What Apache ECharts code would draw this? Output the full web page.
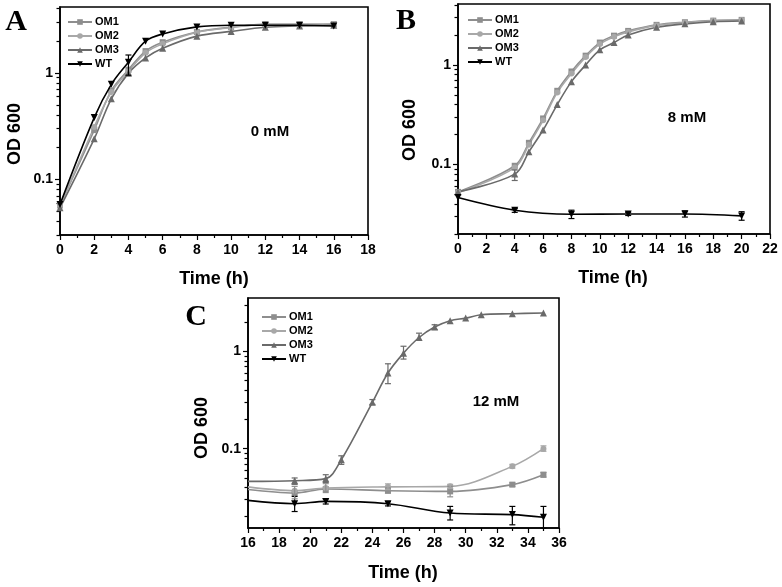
<!DOCTYPE html>
<html>
<head>
<meta charset="utf-8">
<script src="https://cdn.jsdelivr.net/npm/echarts@6/dist/echarts.min.js"></script>
<style>html,body{margin:0;padding:0;background:#fff;}#c{width:782px;height:587px;}</style>
</head>
<body>
<div id="c"></div>
<script>
// ---------------- data ----------------
const seriesNames = ['OM1', 'OM2', 'OM3', 'WT'];

// Panel A (0 mM)
const tA = [0, 2, 3, 4, 5, 6, 8, 10, 12, 14, 16];
const A_OM1 = [0.057, 0.29, 0.68, 1.07, 1.60, 1.94, 2.42, 2.68, 2.85, 2.85, 2.87];
const A_OM2 = [0.056, 0.31, 0.66, 1.03, 1.54, 1.87, 2.40, 2.66, 2.85, 2.85, 2.87];
const A_OM3 = [0.054, 0.24, 0.57, 0.99, 1.38, 1.70, 2.21, 2.45, 2.68, 2.75, 2.80];
const A_WT  = [0.058, 0.38, 0.78, 1.26, 1.98, 2.32, 2.70, 2.80, 2.80, 2.80, 2.75];
const errA_WT = [[4, 0.95, 1.47]];

// Panel B (8 mM)
const tB = [0, 4, 5, 6, 7, 8, 9, 10, 11, 12, 14, 16, 18, 20];
const B_OM1 = [0.053, 0.097, 0.165, 0.29, 0.55, 0.86, 1.24, 1.68, 1.97, 2.20, 2.53, 2.69, 2.79, 2.84];
const B_OM2 = [0.052, 0.093, 0.158, 0.278, 0.53, 0.82, 1.20, 1.62, 1.92, 2.15, 2.50, 2.67, 2.78, 2.83];
const B_OM3 = [0.053, 0.080, 0.134, 0.222, 0.40, 0.68, 1.00, 1.42, 1.68, 2.00, 2.39, 2.59, 2.72, 2.77];
const tB_WT = [0, 4, 8, 12, 16, 20];
const B_WT  = [0.0465, 0.0347, 0.0316, 0.0318, 0.0318, 0.0304];
const errB_WT = [[4, 0.033, 0.036], [8, 0.0286, 0.0347], [12, 0.0307, 0.033], [16, 0.0296, 0.0342], [20, 0.0275, 0.0335]];
const errB_OM3 = [[4, 0.069, 0.088]];

// Panel C (12 mM)
const tC = [16, 19, 21, 25, 29, 33, 35];
const C_OM1 = [0.038, 0.035, 0.0385, 0.037, 0.0364, 0.0427, 0.054];
const C_OM2 = [0.0405, 0.037, 0.0394, 0.0405, 0.041, 0.0658, 0.100];
const C_WT  = [0.0294, 0.0272, 0.0287, 0.0272, 0.0218, 0.021, 0.0197];
const tC_OM3 = [16, 19, 21, 22, 24, 25, 26, 27, 28, 29, 30, 31, 33, 35];
const C_OM3 = [0.0461, 0.0469, 0.0492, 0.077, 0.30, 0.60, 0.96, 1.39, 1.78, 2.07, 2.20, 2.38, 2.44, 2.48];
const errC_WT = [[19, 0.0226, 0.0323], [21, 0.027, 0.0305], [25, 0.0258, 0.0285], [29, 0.0185, 0.0255], [33, 0.0165, 0.0255], [35, 0.0152, 0.0255]];
const errC_OM1 = [[19, 0.0305, 0.041], [21, 0.0354, 0.0437], [25, 0.035, 0.0395], [29, 0.032, 0.041], [33, 0.041, 0.0445], [35, 0.051, 0.057]];
const errC_OM2 = [[25, 0.038, 0.0435], [29, 0.039, 0.043], [33, 0.063, 0.069], [35, 0.094, 0.107]];
const errC_OM3 = [[19, 0.043, 0.05], [21, 0.045, 0.054], [22, 0.069, 0.0845], [24, 0.285, 0.32], [25, 0.466, 0.746], [26, 0.834, 1.13], [27, 1.30, 1.54], [28, 1.68, 1.88]];

// tick values
const yMajor = [0.1, 1];
const yMinorA = [0.03, 0.04, 0.05, 0.06, 0.07, 0.08, 0.09, 0.2, 0.3, 0.4, 0.5, 0.6, 0.7, 0.8, 0.9, 2, 3, 4];
const yMinorB = [0.02, 0.03, 0.04, 0.05, 0.06, 0.07, 0.08, 0.09, 0.2, 0.3, 0.4, 0.5, 0.6, 0.7, 0.8, 0.9, 2, 3, 4];
const yMinorC = [0.02, 0.03, 0.04, 0.05, 0.06, 0.07, 0.08, 0.09, 0.2, 0.3, 0.4, 0.5, 0.6, 0.7, 0.8, 0.9, 2, 3];

// ---------------- styling ----------------
const FONT = '"Liberation Sans", Arial, sans-serif';
const colors = { OM1: '#8e8e8e', OM2: '#a8a8a8', OM3: '#6a6a6a', WT: '#000000' };
const symbols = { OM1: 'rect', OM2: 'circle', OM3: 'triangle', WT: 'triangle' };
const symbolSizes = { OM1: 6, OM2: 6, OM3: 7, WT: 7 };

const grids = [
  { left: 60, top: 7, width: 308, height: 228 },
  { left: 458, top: 4, width: 312, height: 230 },
  { left: 248, top: 298, width: 311, height: 230 }
];
const xRanges = [[0, 18], [0, 22], [16, 36]];
const yRanges = [[0.03, 4.15], [0.02, 4.1], [0.0153, 3.54]];
const yMinors = [yMinorA, yMinorB, yMinorC];

const xAxes = [], yAxes = [];
grids.forEach((g, i) => {
  xAxes.push({
    type: 'value', gridIndex: i, position: 'bottom', min: xRanges[i][0], max: xRanges[i][1], interval: 2,
    axisLine: { show: true, onZero: false, lineStyle: { color: '#000', width: 1.6 } },
    axisTick: { show: true, inside: false, length: 5, lineStyle: { color: '#000', width: 1.2 } },
    minorTick: { show: true, splitNumber: 2, length: 3, lineStyle: { color: '#000', width: 1.2 } },
    axisLabel: { color: '#000', fontSize: 14, fontWeight: 'bold', fontFamily: FONT, margin: 8 },
    splitLine: { show: false }
  });
  yAxes.push({
    type: 'log', logBase: 10, gridIndex: i, position: 'left', offset: 0, min: yRanges[i][0], max: yRanges[i][1],
    axisLine: { show: true, onZero: false, lineStyle: { color: '#000', width: 1.6 } },
    axisTick: { show: true, inside: false, length: 5, customValues: yMajor, lineStyle: { color: '#000', width: 1.2 } },
    axisLabel: { color: '#000', fontSize: 14, fontWeight: 'bold', fontFamily: FONT, margin: 7, customValues: yMajor,
      formatter: v => String(v) },
    splitLine: { show: false }
  });
  yAxes.push({
    type: 'log', logBase: 10, gridIndex: i, position: 'left', offset: 0, min: yRanges[i][0], max: yRanges[i][1],
    axisLine: { show: false, onZero: false },
    axisTick: { show: true, inside: false, length: 3.5, customValues: yMinors[i], lineStyle: { color: '#000', width: 1.2 } },
    axisLabel: { show: false },
    splitLine: { show: false }
  });
});

function zip(t, v) { return t.map((x, k) => [x, v[k]]); }

function lineSeries(name, gi, t, v, hideFirst) {
  const data = zip(t, v).map((p, k) => (hideFirst && k === 0) ? { value: p, symbol: 'none' } : p);
  return {
    type: 'line', name: name, xAxisIndex: gi, yAxisIndex: gi * 2,
    data: data, smooth: 0.35, symbol: symbols[name], symbolSize: symbolSizes[name],
    symbolRotate: name === 'WT' ? 180 : 0,
    lineStyle: { color: colors[name], width: 1.6 },
    itemStyle: { color: colors[name] },
    z: name === 'WT' ? 5 : 3
  };
}

function errSeries(name, gi, arr) {
  return {
    type: 'custom', xAxisIndex: gi, yAxisIndex: gi * 2, silent: true, z: 4,
    data: arr,
    renderItem: function (params, api) {
      const x = api.value(0), lo = api.value(1), hi = api.value(2);
      const p1 = api.coord([x, lo]), p2 = api.coord([x, hi]);
      const w = 3;
      const st = { stroke: colors[name], lineWidth: 1.2 };
      return { type: 'group', children: [
        { type: 'line', shape: { x1: p1[0], y1: p1[1], x2: p2[0], y2: p2[1] }, style: st },
        { type: 'line', shape: { x1: p1[0] - w, y1: p1[1], x2: p1[0] + w, y2: p1[1] }, style: st },
        { type: 'line', shape: { x1: p2[0] - w, y1: p2[1], x2: p2[0] + w, y2: p2[1] }, style: st }
      ] };
    }
  };
}

const series = [
  lineSeries('OM1', 0, tA, A_OM1), lineSeries('OM2', 0, tA, A_OM2),
  lineSeries('OM3', 0, tA, A_OM3), lineSeries('WT', 0, tA, A_WT),
  errSeries('WT', 0, errA_WT),
  lineSeries('OM1', 1, tB, B_OM1), lineSeries('OM2', 1, tB, B_OM2),
  lineSeries('OM3', 1, tB, B_OM3), lineSeries('WT', 1, tB_WT, B_WT),
  errSeries('WT', 1, errB_WT), errSeries('OM3', 1, errB_OM3),
  lineSeries('OM1', 2, tC, C_OM1, true), lineSeries('OM2', 2, tC, C_OM2, true),
  lineSeries('OM3', 2, tC_OM3, C_OM3, true), lineSeries('WT', 2, tC, C_WT, true),
  errSeries('WT', 2, errC_WT), errSeries('OM1', 2, errC_OM1),
  errSeries('OM2', 2, errC_OM2), errSeries('OM3', 2, errC_OM3)
];

const legendPos = [[62, 11], [462, 9], [256, 306]];
const legends = legendPos.map(p => ({
  orient: 'vertical', left: p[0], top: p[1], data: seriesNames,
  itemWidth: 24, itemHeight: 7, itemGap: 2, selectedMode: false,
  textStyle: { color: '#000', fontSize: 11, fontWeight: 'bold', fontFamily: FONT, lineHeight: 12, padding: [0, 0, 0, -2] }
}));

function txt(x, y, s, size, opts) {
  return Object.assign({
    type: 'text', x: x, y: y,
    style: { text: s, fill: '#000', font: 'bold ' + size + 'px ' + FONT, align: 'center', verticalAlign: 'middle' }
  }, opts || {});
}
function serifTxt(x, y, s) {
  return { type: 'text', x: x, y: y, style: { text: s, fill: '#000', font: 'bold 30px "Liberation Serif", "Times New Roman", serif', align: 'center', verticalAlign: 'middle' } };
}

const graphics = [
  serifTxt(16, 22, 'A'), serifTxt(406, 21, 'B'), serifTxt(196, 317, 'C'),
  txt(270, 132, '0 mM', 15), txt(687, 118, '8 mM', 15), txt(496, 402, '12 mM', 15),
  txt(214, 279, 'Time (h)', 18), txt(613, 278, 'Time (h)', 18), txt(403, 573, 'Time (h)', 18),
  txt(15, 134, 'OD 600', 18, { rotation: Math.PI / 2 }),
  txt(410, 130, 'OD 600', 18, { rotation: Math.PI / 2 }),
  txt(202, 428, 'OD 600', 18, { rotation: Math.PI / 2 })
];

const chart = echarts.init(document.getElementById('c'), null, { renderer: 'canvas' });
chart.setOption({
  animation: false,
  backgroundColor: '#fff',
  grid: grids.map(g => Object.assign({ show: true, borderColor: '#000', borderWidth: 1.6, backgroundColor: 'transparent' }, g)),
  xAxis: xAxes,
  yAxis: yAxes,
  legend: legends,
  series: series,
  graphic: graphics
});
</script>
</body>
</html>
